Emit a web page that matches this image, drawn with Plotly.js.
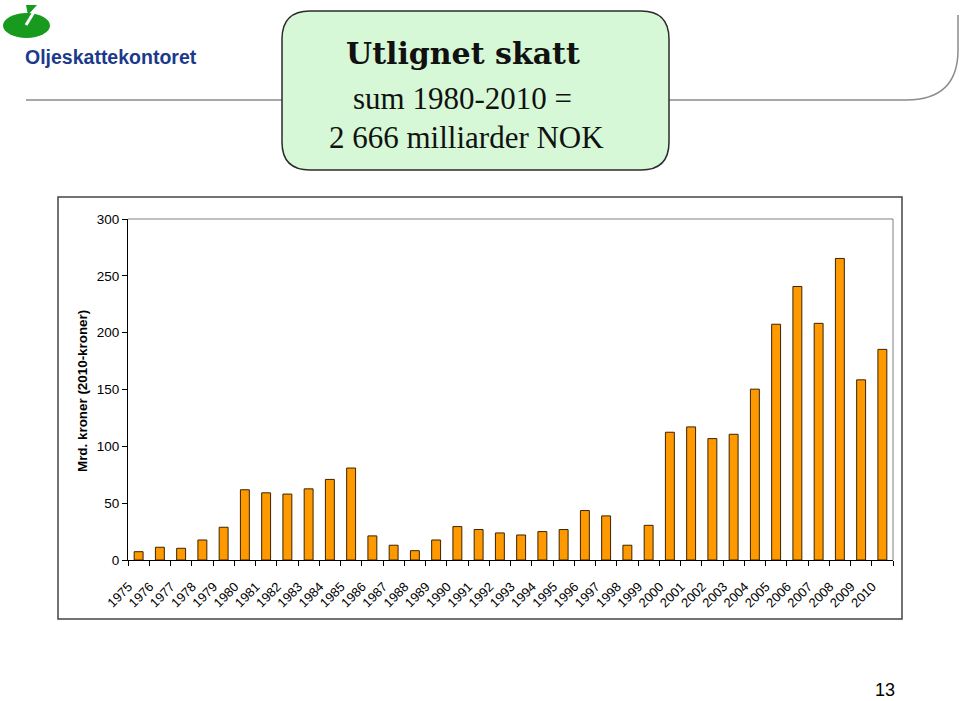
<!DOCTYPE html>
<html>
<head>
<meta charset="utf-8">
<script src="https://cdn.plot.ly/plotly-3.0.1.min.js"></script>
<style>
html,body{margin:0;padding:0;background:#fff;}
#chart{width:960px;height:701px;}
</style>
</head>
<body>
<div id="chart"></div>
<script>
// ---- data ----
const years = ["1975","1976","1977","1978","1979","1980","1981","1982","1983","1984","1985","1986",
  "1987","1988","1989","1990","1991","1992","1993","1994","1995","1996","1997","1998","1999",
  "2000","2001","2002","2003","2004","2005","2006","2007","2008","2009","2010"];
const taxValues = [7.3, 11.2, 10.3, 17.6, 28.8, 61.8, 59.1, 58.0, 62.6, 70.9, 80.9, 21.2,
  13.0, 8.2, 17.6, 29.4, 26.8, 23.8, 22.0, 25.0, 26.8, 43.5, 38.8, 13.0, 30.5,
  112.4, 117.1, 106.8, 110.6, 150.3, 207.4, 240.6, 208.2, 265.3, 158.5, 185.3];
const yTicks = [0, 50, 100, 150, 200, 250, 300];

const titleLines = ["Utlignet skatt", "sum 1980-2010 =", "2 666 milliarder NOK"];
const orgName = "Oljeskattekontoret";
const yTitle = "Mrd. kroner (2010-kroner)";
const pageNo = "13";

// ---- layout helpers (pixel -> paper) ----
const W = 960, H = 701;
const px = x => x / W;
const py = y => 1 - y / H;
const P = (x, y) => px(x).toFixed(5) + "," + py(y).toFixed(5);

const plotL = 128, plotR = 893, plotT = 219, plotB = 560;

function roundRect(x0, y0, x1, y1, r) {
  return "M" + P(x0 + r, y0) + " L" + P(x1 - r, y0) +
    " Q" + P(x1, y0) + " " + P(x1, y0 + r) +
    " L" + P(x1, y1 - r) + " Q" + P(x1, y1) + " " + P(x1 - r, y1) +
    " L" + P(x0 + r, y1) + " Q" + P(x0, y1) + " " + P(x0, y1 - r) +
    " L" + P(x0, y0 + r) + " Q" + P(x0, y0) + " " + P(x0 + r, y0) + " Z";
}

const shapes = [
  // header line with curved right end
  {type: "path", xref: "paper", yref: "paper",
   path: "M" + P(26, 100) + " L" + P(906, 100) + " Q" + P(958, 100) + " " + P(958, 50) + " L" + P(958, 15),
   line: {color: "#8c8c8c", width: 1.5}},
  // title box
  {type: "path", xref: "paper", yref: "paper", path: roundRect(282, 11, 669, 170, 28),
   fillcolor: "#d6f8d6", line: {color: "#2b2b2b", width: 1.5}},
  // logo ellipse
  {type: "circle", xref: "paper", yref: "paper", x0: px(3), x1: px(50), y0: py(38), y1: py(13),
   fillcolor: "#179a1e", line: {width: 0}},
  // logo white slash
  {type: "line", xref: "paper", yref: "paper", x0: px(26), y0: py(25), x1: px(34), y1: py(12),
   line: {color: "#ffffff", width: 3}},
  // logo flag
  {type: "path", xref: "paper", yref: "paper", path: "M" + P(26, 5) + " L" + P(37, 5) + " L" + P(28, 15) + " Z",
   fillcolor: "#179a1e", line: {width: 0}},
  // outer chart frame
  {type: "rect", xref: "paper", yref: "paper", x0: px(58), x1: px(902), y0: py(619), y1: py(197),
   line: {color: "#444444", width: 1.5}},
  // plot area border top/right (gray)
  {type: "path", xref: "paper", yref: "paper",
   path: "M" + P(plotL, plotT) + " L" + P(plotR, plotT) + " L" + P(plotR, plotB),
   line: {color: "#808080", width: 1}}
];

const serif = "'Liberation Serif', 'Times New Roman', serif";
const sans = "Arial, 'Liberation Sans', sans-serif";
const annotations = [
  {text: "<b>" + titleLines[0] + "</b>", x: px(463), y: py(54), xref: "paper", yref: "paper",
   xanchor: "center", yanchor: "middle", showarrow: false,
   font: {family: "'DejaVu Serif', serif", size: 30, color: "#111"}},
  {text: titleLines[1], x: px(462), y: py(98), xref: "paper", yref: "paper",
   xanchor: "center", yanchor: "middle", showarrow: false,
   font: {family: serif, size: 31, color: "#111"}},
  {text: titleLines[2], x: px(466), y: py(138), xref: "paper", yref: "paper",
   xanchor: "center", yanchor: "middle", showarrow: false,
   font: {family: serif, size: 31, color: "#111"}},
  {text: "<b>" + orgName + "</b>", x: px(23), y: py(57), xref: "paper", yref: "paper",
   xanchor: "left", yanchor: "middle", showarrow: false,
   font: {family: sans, size: 19.5, color: "#1c3a8c"}},
  {text: "<b>" + yTitle + "</b>", x: px(82), y: py(391), xref: "paper", yref: "paper",
   xanchor: "center", yanchor: "middle", textangle: -90, showarrow: false,
   font: {family: sans, size: 13.4, color: "#000"}},
  {text: pageNo, x: px(885), y: py(690), xref: "paper", yref: "paper",
   xanchor: "center", yanchor: "middle", showarrow: false,
   font: {family: sans, size: 18, color: "#000"}}
];

const trace = {
  type: "bar", x: years, y: taxValues,
  marker: {color: "#ff9900", line: {color: "#3a2400", width: 1}},
  hoverinfo: "x+y"
};

const layout = {
  width: W, height: H,
  margin: {l: 0, r: 0, t: 0, b: 0},
  paper_bgcolor: "#ffffff", plot_bgcolor: "#ffffff",
  font: {family: sans, size: 12, color: "#000"},
  showlegend: false,
  bargap: 0.58,
  xaxis: {
    domain: [px(plotL), px(plotR)],
    type: "category", tickson: "boundaries",
    ticks: "outside", ticklen: 5, tickcolor: "#000", tickwidth: 1,
    showline: true, linecolor: "#000", linewidth: 1,
    showgrid: false, zeroline: false,
    tickangle: -45, tickfont: {size: 13, color: "#000"},
    ticklabelshift: -10, ticklabelstandoff: 13,
    fixedrange: true
  },
  yaxis: {
    domain: [py(plotB), py(plotT)],
    range: [0, 300], tickvals: yTicks, ticktext: yTicks.map(String),
    ticks: "outside", ticklen: 5, tickcolor: "#000", tickwidth: 1,
    showline: true, linecolor: "#000", linewidth: 1,
    showgrid: false, zeroline: false,
    tickfont: {size: 13.5, color: "#000"},
    fixedrange: true
  },
  shapes: shapes,
  annotations: annotations
};

Plotly.newPlot("chart", [trace], layout, {displayModeBar: false, staticPlot: true});
</script>
</body>
</html>
